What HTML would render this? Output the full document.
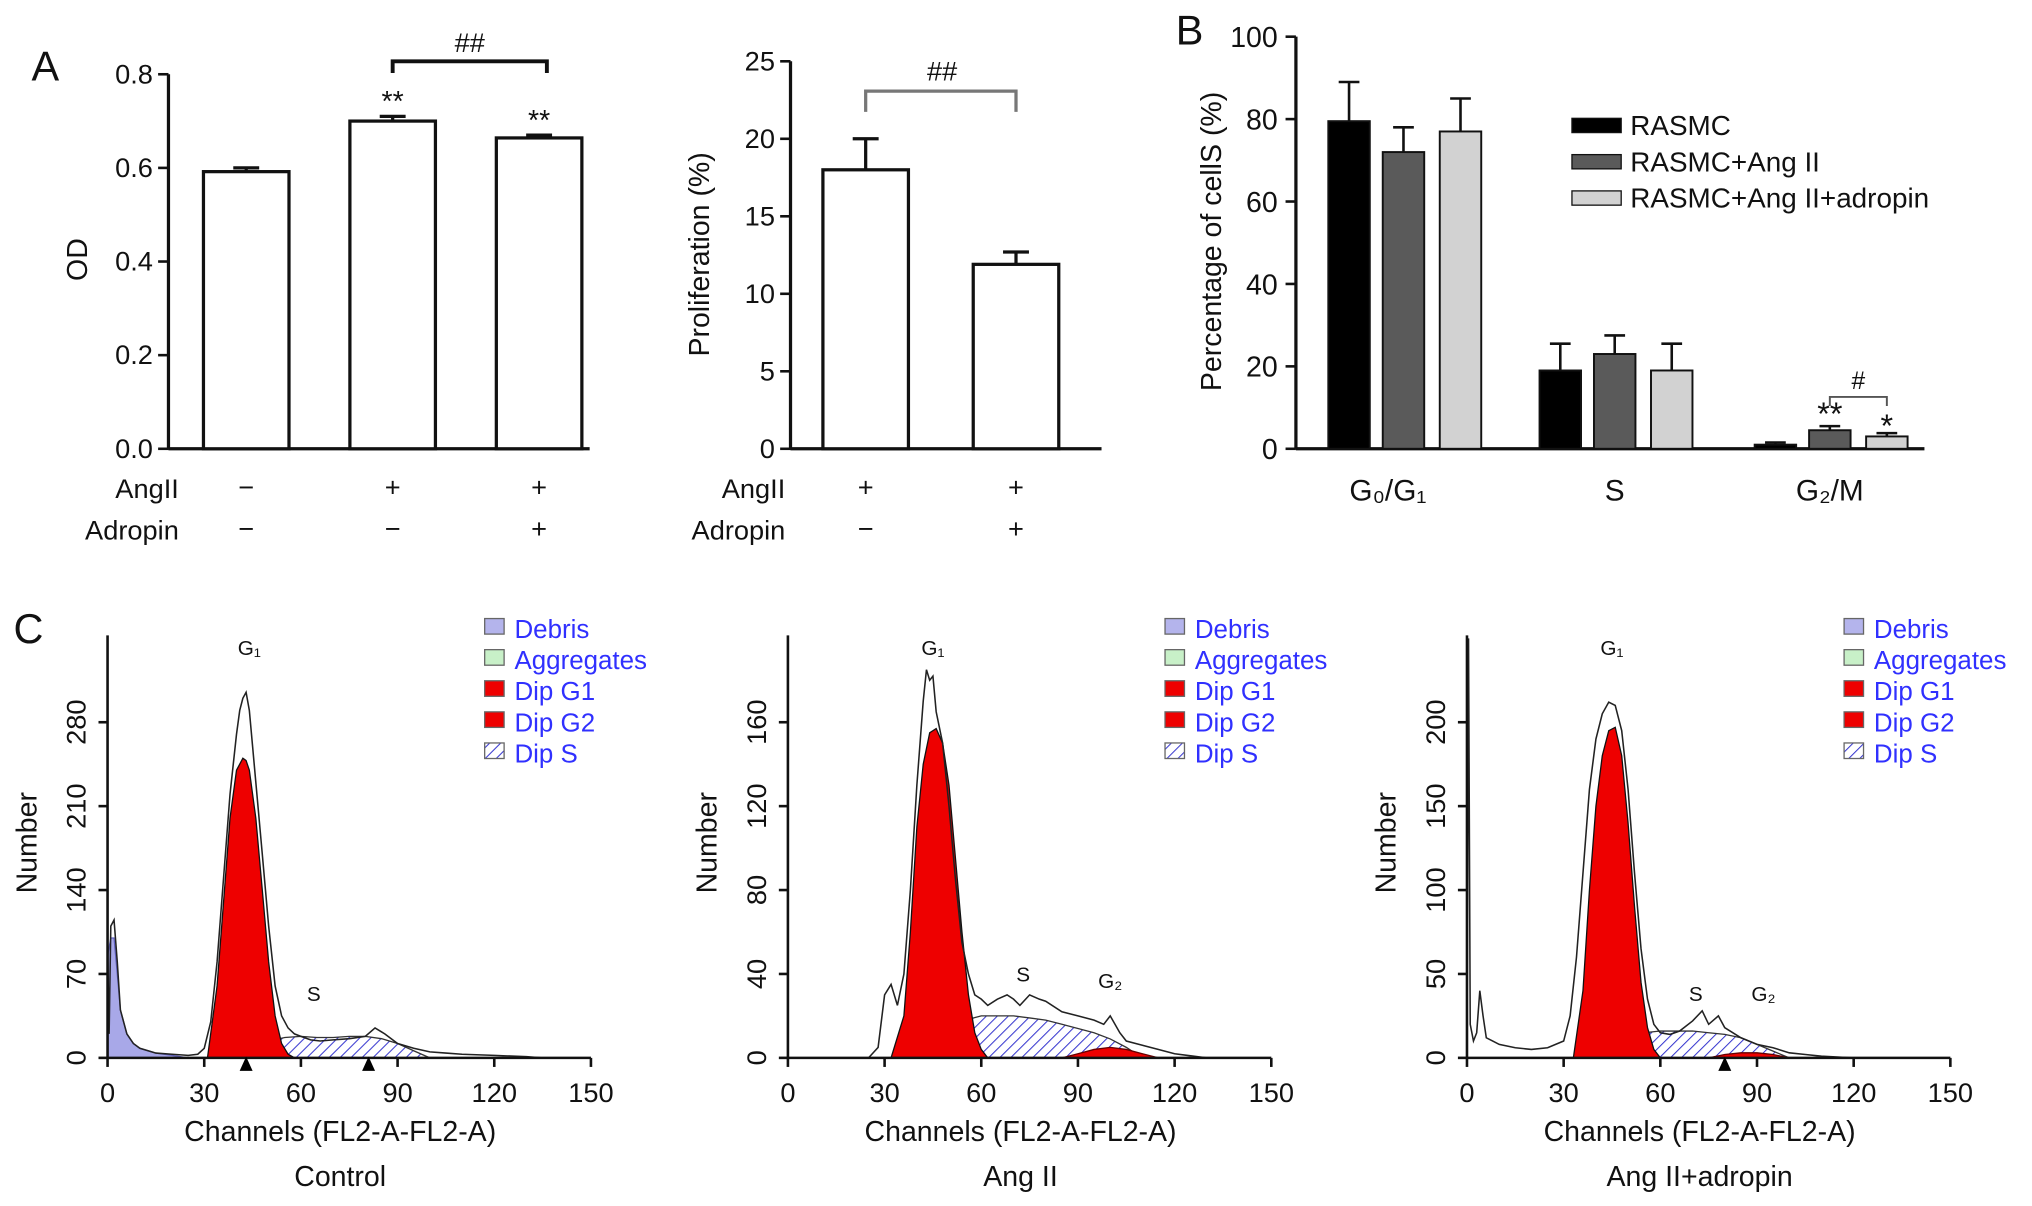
<!DOCTYPE html>
<html><head><meta charset="utf-8">
<style>
html,body{margin:0;padding:0;background:#fff;}
svg{display:block;font-family:"Liberation Sans",Arial,sans-serif;}
</style></head>
<body>
<svg id="fig" xmlns="http://www.w3.org/2000/svg" width="2032" height="1206" viewBox="0 0 1568 930">
<defs>
<pattern id="hatch" patternUnits="userSpaceOnUse" width="6" height="6" patternTransform="rotate(45)">
<rect width="6" height="6" fill="#fff"/><line x1="0" y1="0" x2="0" y2="6" stroke="#3a3ad0" stroke-width="1.6"/>
</pattern>
</defs>
</svg>
<script>
// ---------- data ----------
const odCats = ['Control','AngII','AngII+Adropin'];
const odValues = [0.592, 0.700, 0.664];
const odErr = [0.008, 0.010, 0.006];
const odTicks = [0.0,0.2,0.4,0.6,0.8];

const profCats = ['AngII','AngII+Adropin'];
const profValues = [18, 11.9];
const profErr = [2, 0.8];
const profTicks = [0,5,10,15,20,25];

const phases = ['G\u2080/G\u2081','S','G\u2082/M'];
const rasmcVals = [79.5, 19, 1];
const angVals = [72, 23, 4.5];
const adrVals = [77, 19, 3];
const rasmcErr = [9.5, 6.5, 0.5];
const angErr = [6, 4.5, 1];
const adrErr = [8, 6.5, 0.8];
const pctTicks = [0,20,40,60,80,100];

const chTicks = [0,30,60,90,120,150];
const ctrlTicks = [0,70,140,210,280];
const angTicks = [0,40,80,120,160];
const adrTicks = [0,50,100,150,200];

const ctrlOutCh = [0,0.5,1,2,3,4,6,8,10,15,20,25,28,30,32,34,36,38,40,41,42,43,44,45,46,48,50,52,54,56,58,60,63,66,70,75,80,83,86,90,95,100,105,110,120,130,135];
const ctrlOutN = [90,20,110,115,80,40,20,12,8,4,3,2,3,8,30,80,150,220,270,290,300,305,290,260,230,170,110,60,35,25,20,18,15,14,15,16,18,25,20,12,8,5,4,3,2,1,0];
const ctrlG1Ch = [31,34,36,38,40,42,43,44,46,48,50,52,54,56,58];
const ctrlG1N = [0,60,130,200,240,250,248,240,200,140,80,35,12,3,0];
const ctrlSCh = [38,45,50,55,60,65,70,75,80,85,90,95,100];
const ctrlSN = [0,8,14,17,18,17,17,18,18,16,12,6,0];
const ctrlDebCh = [0,1,2,3,4,6,8,10,15,20,25];
const ctrlDebN = [85,100,100,70,40,20,12,8,4,2,0];

const angOutCh = [25,28,30,32,34,36,38,40,42,43,44,45,46,48,50,52,54,56,58,60,62,65,68,70,72,75,78,80,85,90,95,98,100,103,105,110,115,120,125,130];
const angOutN = [0,5,30,35,25,40,80,130,170,185,180,182,165,150,120,85,55,40,30,28,25,28,30,28,25,30,28,27,22,20,18,16,20,12,8,6,4,2,1,0];
const angG1Ch = [32,36,38,40,42,44,46,48,50,52,54,56,58,60,62];
const angG1N = [0,20,60,110,140,155,157,150,130,95,60,30,12,4,0];
const angSCh = [38,45,50,55,60,65,70,75,80,85,90,95,100,105,110];
const angSN = [0,8,14,18,20,20,20,19,18,16,14,12,9,5,0];
const angG2Ch = [85,90,95,100,105,110,115];
const angG2N = [0,2,4,5,4,2,0];

const adrOutCh = [0,0.5,1,2,3,4,5,6,8,10,15,20,25,30,32,34,36,38,40,42,44,46,48,50,52,54,56,58,60,63,66,70,73,75,78,80,85,90,95,100,105,110,120,125];
const adrOutN = [0,250,20,10,15,40,25,12,10,8,6,5,6,10,25,60,110,160,190,205,212,210,195,160,110,65,35,20,15,14,16,22,28,20,25,18,12,8,6,3,2,1,0,0];
const adrG1Ch = [33,36,38,40,42,44,46,48,50,52,54,56,58,60];
const adrG1N = [0,40,100,150,180,195,197,180,140,90,45,18,5,0];
const adrSCh = [38,45,50,55,60,65,70,75,80,85,90,95,100];
const adrSN = [0,8,12,15,16,16,16,15,14,12,8,4,0];
const adrG2Ch = [75,80,85,90,95,100];
const adrG2N = [0,2,3,3,2,0];

// ---------- helpers ----------
const NS='http://www.w3.org/2000/svg';
const svg=document.getElementById('fig');
function mk(tag,attrs,parent){const e=document.createElementNS(NS,tag);for(const k in attrs)e.setAttribute(k,attrs[k]);(parent||svg).appendChild(e);return e;}
function txt(x,y,s,size,anchor,parent,extra){const t=mk('text',Object.assign({x:x,y:y,'font-size':size,'text-anchor':anchor||'middle',fill:'#111'},extra||{}),parent);t.textContent=s;return t;}
function lin(x1,y1,x2,y2,w,parent,col){return mk('line',{x1:x1,y1:y1,x2:x2,y2:y2,stroke:col||'#111','stroke-width':w||2},parent);}

let L=txt(35,62,'A',32,'middle');


L=txt(918,34,'B',32,'middle');


L=txt(22,496,'C',32,'middle');



// ---------- Panel A left ----------
(function(){
 const g=mk('g',{});
 
 
 const x0=130,y0=346,yTop=57,maxV=0.8;
 const y=v=>y0-(v/maxV)*(y0-yTop);
 const cx=[190,303,416];
 lin(x0,y0,455,y0,2.5,g);lin(x0,y0,x0,yTop,2.5,g);
 odTicks.forEach(t=>{lin(x0-8,y(t),x0,y(t),2,g);const l=txt(x0-12,y(t)+7,t.toFixed(1),21,'end',g);
  
  });
 const yl=txt(0,0,'OD',22,'middle',g,{transform:'translate(67,200) rotate(-90)'});
 
 
 odValues.forEach((v,i)=>{
  lin(cx[i],y(v),cx[i],y(v+odErr[i]),2.5,g);lin(cx[i]-10,y(v+odErr[i]),cx[i]+10,y(v+odErr[i]),2.5,g);
  const b=mk('rect',{x:cx[i]-33,y:y(v),width:66,height:y0-y(v),fill:'#fff',stroke:'#111','stroke-width':2.5},g);
  
  
 });
 [1,2].forEach(i=>{const s=txt(cx[i],y(odValues[i]+odErr[i])-4,'**',22,'middle',g);
  
  });
 mk('path',{d:`M${cx[1]} 56 V47 H${cx[2]+6} V56`,fill:'none',stroke:'#111','stroke-width':3},g);
 const h=txt((cx[1]+cx[2])/2+3,40,'##',21,'middle',g);
 
 
 const r1=txt(138,384,'AngII',21,'end',g);
 
 
 const r2=txt(138,416,'Adropin',21,'end',g);
 
 
 ['\u2212','+','+'].forEach((s,i)=>txt(cx[i],383,s,21,'middle',g));
 ['\u2212','\u2212','+'].forEach((s,i)=>txt(cx[i],415,s,21,'middle',g));
})();

// ---------- Panel A right ----------
(function(){
 const g=mk('g',{});
 
 
 const x0=610,y0=346,yTop=47,maxV=25;
 const y=v=>y0-(v/maxV)*(y0-yTop);
 const cx=[668,784];
 lin(x0,y0,850,y0,2.5,g);lin(x0,y0,x0,yTop,2.5,g);
 profTicks.forEach(t=>{lin(x0-8,y(t),x0,y(t),2,g);const l=txt(x0-12,y(t)+7,String(t),21,'end',g);
  
  });
 const yl=txt(0,0,'Proliferation (%)',22,'middle',g,{transform:'translate(547,196) rotate(-90)'});
 
 
 profValues.forEach((v,i)=>{
  lin(cx[i],y(v),cx[i],y(v+profErr[i]),2.5,g);lin(cx[i]-10,y(v+profErr[i]),cx[i]+10,y(v+profErr[i]),2.5,g);
  const b=mk('rect',{x:cx[i]-33,y:y(v),width:66,height:y0-y(v),fill:'#fff',stroke:'#111','stroke-width':2.5},g);
  
  
 });
 mk('path',{d:`M${cx[0]} 86 V70 H${cx[1]} V86`,fill:'none',stroke:'#777','stroke-width':2.5},g);
 const h=txt(727,62,'##',21,'middle',g);
 
 
 txt(606,384,'AngII',21,'end',g);
 txt(606,416,'Adropin',21,'end',g);
 ['+','+'].forEach((s,i)=>txt(cx[i],383,s,21,'middle',g));
 ['\u2212','+'].forEach((s,i)=>txt(cx[i],415,s,21,'middle',g));
})();

// ---------- Panel B ----------
(function(){
 const g=mk('g',{});
 
 
 const x0=1000,y0=346,yTop=28,maxV=100;
 const y=v=>y0-(v/maxV)*(y0-yTop);
 const centers=[1083,1246,1412];
 const offs=[-42,0,44];
 const series=[[rasmcVals,rasmcErr,'#000'],[angVals,angErr,'#5a5a5a'],[adrVals,adrErr,'#d2d2d2']];
 lin(x0,y0,1485,y0,2.5,g);lin(x0,y0,x0,yTop,2.5,g);
 pctTicks.forEach(t=>{lin(x0-8,y(t),x0,y(t),2,g);const l=txt(x0-14,y(t)+8,String(t),22,'end',g);
  
  });
 const yl=txt(0,0,'Percentage of cellS (%)',22,'middle',g,{transform:'translate(942,186) rotate(-90)'});
 
 
 phases.forEach((p,gi)=>{
  series.forEach((s,si)=>{
   const v=s[0][gi],e=s[1][gi],cx=centers[gi]+offs[si];
   lin(cx,y(v),cx,y(v+e),2,g);lin(cx-8,y(v+e),cx+8,y(v+e),2,g);
   const b=mk('rect',{x:cx-16,y:y(v),width:32,height:y0-y(v),fill:s[2],stroke:'#111','stroke-width':1.5},g);
   
   
  });
  const l=txt(centers[gi]-(gi==0?12:0),386,p,23,'middle',g);
  
  
 });
 const s1=txt(centers[2],y(angVals[2]+angErr[2])-1,'**',25,'middle',g);
 
 
 const s2=txt(centers[2]+offs[2],y(adrVals[2]+adrErr[2])+3,'*',25,'middle',g);
 
 
 mk('path',{d:`M${centers[2]} 313 V306 H${centers[2]+offs[2]} V313`,fill:'none',stroke:'#555','stroke-width':1.5},g);
 txt(centers[2]+22,300,'#',19,'middle',g);
 const names=['RASMC','RASMC+Ang II','RASMC+Ang II+adropin'];
 series.forEach((s,i)=>{
  const yy=97+i*28;
  const sw=mk('rect',{x:1213,y:yy-6,width:38,height:11,fill:s[2],stroke:'#111','stroke-width':1},g);
  
  
  const t=txt(1258,yy+7,names[i],21.5,'start',g);
  
  
 });
})();

// ---------- Panel C ----------
function histo(cfg){
 const g=mk('g',{});
 
 
 const x0=cfg.x0,x1=x0+373,y0=816,yTopTick=557,yAxisTop=490;
 const X=c=>x0+c/150*(x1-x0);
 const maxT=cfg.ticks[cfg.ticks.length-1];
 const Y=n=>Math.max(yAxisTop,y0-n/maxT*(y0-yTopTick));
 function area(chs,ns,fill,stroke,nm){
  let d='M'+X(chs[0])+' '+y0;
  chs.forEach((c,i)=>d+=' L'+X(c).toFixed(1)+' '+Y(ns[i]).toFixed(1));
  d+=' L'+X(chs[chs.length-1])+' '+y0+' Z';
  const p=mk('path',{d:d,fill:fill,stroke:stroke||'none','stroke-width':1},g);
  
  
 }
 if(cfg.deb) area(cfg.deb[0],cfg.deb[1],'#a8a8e8','#6060c0','debris-area');
 area(cfg.s[0],cfg.s[1],'url(#hatch)','#333','dip-s-area');
 area(cfg.g1[0],cfg.g1[1],'#ee0000','#111','dip-g1-area');
 if(cfg.g2) area(cfg.g2[0],cfg.g2[1],'#ee0000','#600','dip-g2-area');
 let d='';
 cfg.out[0].forEach((c,i)=>d+=(i?' L':'M')+X(c).toFixed(1)+' '+Y(cfg.out[1][i]).toFixed(1));
 const o=mk('path',{d:d,fill:'none',stroke:'#222','stroke-width':1.2},g);
 
 
 lin(x0,y0,x1,y0,2,g);lin(x0,y0,x0,yAxisTop,2,g);
 chTicks.forEach(t=>{lin(X(t),y0,X(t),y0+7,2,g);const l=txt(X(t),y0+34,String(t),21,'middle',g);
  
  });
 cfg.ticks.forEach(t=>{lin(x0-7,Y(t),x0,Y(t),2,g);const l=txt(0,0,String(t),21,'middle',g,{transform:`translate(${x0-17},${Y(t)}) rotate(-90)`});
  
  });
 const yl=txt(0,0,'Number',22,'middle',g,{transform:`translate(${x0-55},650) rotate(-90)`});
 
 
 const xl=txt((x0+x1)/2-7,880,'Channels (FL2-A-FL2-A)',22,'middle',g);
 
 
 const cap=txt((x0+x1)/2-7,915,cfg.caption,22,'middle',g);
 
 
 const g1=txt(X(cfg.g1lab),505,'G\u2081',16,'middle',g);
 
 
 cfg.labs.forEach(l=>txt(X(l[0]),l[1],l[2],16,'middle',g));
 cfg.tri.forEach(c=>mk('path',{d:`M${X(c)-5} 826 L${X(c)+5} 826 L${X(c)} 815 Z`,fill:'#000'},g));
 const names=['Debris','Aggregates','Dip G1','Dip G2','Dip S'];
 const fills=['#b4b4ec','#c8f0c8','#ee0000','#ee0000','url(#hatch)'];
 names.forEach((n,i)=>{
  const yy=484+i*24;
  const sw=mk('rect',{x:x0+291,y:yy-7,width:15,height:12,fill:fills[i],stroke:'#666','stroke-width':1},g);
  
  
  const t=txt(x0+314,yy+8,n,20,'start',g,{fill:'#3030ff'});
  
  
 });
}
histo({name:'control-histogram',x0:83,ticks:ctrlTicks,out:[ctrlOutCh,ctrlOutN],g1:[ctrlG1Ch,ctrlG1N],s:[ctrlSCh,ctrlSN],deb:[ctrlDebCh,ctrlDebN],caption:'Control',g1lab:44,labs:[[64,772,'S']],tri:[43,81]});
histo({name:'angii-histogram',x0:608,ticks:angTicks,out:[angOutCh,angOutN],g1:[angG1Ch,angG1N],s:[angSCh,angSN],g2:[angG2Ch,angG2N],caption:'Ang II',g1lab:45,labs:[[73,757,'S'],[100,762,'G\u2082']],tri:[]});
histo({name:'angii-adropin-histogram',x0:1132,ticks:adrTicks,out:[adrOutCh,adrOutN],g1:[adrG1Ch,adrG1N],s:[adrSCh,adrSN],g2:[adrG2Ch,adrG2N],caption:'Ang II+adropin',g1lab:45,labs:[[71,772,'S'],[92,772,'G\u2082']],tri:[80]});
</script>
</body></html>
